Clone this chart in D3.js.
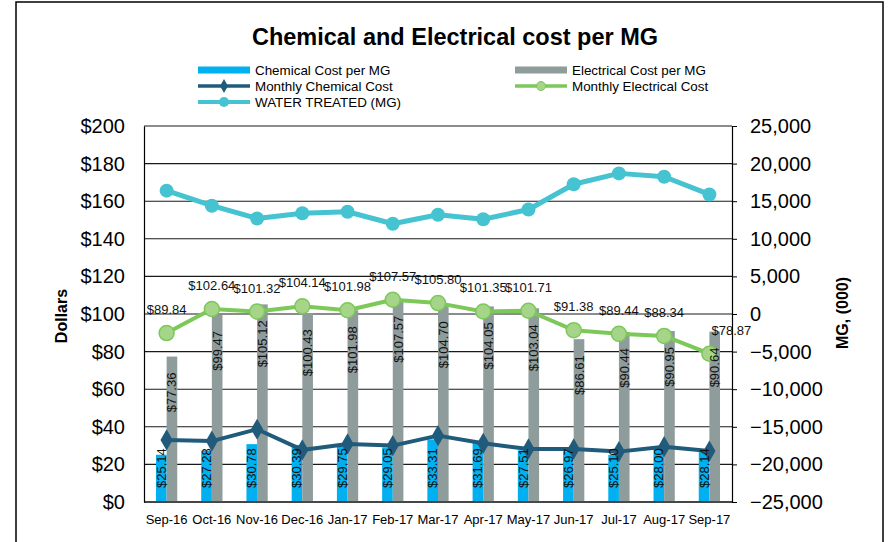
<!DOCTYPE html>
<html>
<head>
<meta charset="utf-8">
<script src="https://cdn.jsdelivr.net/npm/d3@7"></script>
<style>
  body { margin: 0; background: #fff; }
  svg { display: block; font-family: Arial, "Liberation Sans", sans-serif; }
</style>
</head>
<body>
<div id="chart"></div>
<script>
const months = ["Sep-16","Oct-16","Nov-16","Dec-16","Jan-17","Feb-17","Mar-17","Apr-17","May-17","Jun-17","Jul-17","Aug-17","Sep-17"];
const chemPerMG = [25.14,27.28,30.78,30.39,29.75,29.05,33.31,31.69,27.51,26.97,25.10,28.00,28.14];
const elecPerMG = [77.36,99.47,105.12,100.43,101.98,107.57,104.70,104.05,103.04,86.61,90.44,90.95,90.64];
const monthlyChem = [33.0,32.4,38.7,27.7,30.9,30.0,35.3,31.2,28.2,28.2,26.8,29.4,27.1];
const monthlyElec = [89.84,102.64,101.32,104.14,101.98,107.57,105.80,101.35,101.71,91.38,89.44,88.34,78.87];
const waterTreated = [16400,14400,12700,13400,13600,12000,13200,12600,13900,17250,18700,18250,15900];
const leftTicks = [0,20,40,60,80,100,120,140,160,180,200];
const rightTicks = [-25000,-20000,-15000,-10000,-5000,0,5000,10000,15000,20000,25000];

const W = 889, H = 542;
const C = {chem:"#00b0f0", elec:"#8f9c9c", chemLine:"#215b7c", elecLine:"#7cc859", elecMarker:"#a6d58a", water:"#45c3d0"};
const svg = d3.select("#chart").append("svg").attr("width", W).attr("height", H);

// frame
svg.append("rect").attr("x",16).attr("y",2).attr("width",867).attr("height",H+10)
  .attr("fill","none").attr("stroke","#000").attr("stroke-width",1.5);

const plot = {l:144, r:732, t:126, b:502};
const x = d3.scaleBand().domain(months).range([plot.l, plot.r]).paddingInner(0).paddingOuter(0);
const yL = d3.scaleLinear().domain([0,200]).range([plot.b, plot.t]);
const yR = d3.scaleLinear().domain([-25000,25000]).range([plot.b, plot.t]);
const cx = m => x(m) + x.bandwidth()/2;
const bw = x.bandwidth()*0.235;

// title
svg.append("text").attr("x",455).attr("y",45).attr("text-anchor","middle")
  .attr("font-size","23.5px").attr("font-weight","bold").attr("fill","#000")
  .text("Chemical and Electrical cost per MG");

// gridlines
svg.append("g").selectAll("line").data(leftTicks).join("line")
  .attr("x1",plot.l).attr("x2",plot.r).attr("y1",d=>yL(d)).attr("y2",d=>yL(d))
  .attr("stroke","#1a1a1a").attr("stroke-width",1.1);

// left axis
const gL = svg.append("g").attr("transform",`translate(${plot.l},0)`)
  .call(d3.axisLeft(yL).tickValues(leftTicks).tickSize(0).tickPadding(19).tickFormat(d=>"$"+d));
gL.select(".domain").attr("stroke","#000").attr("stroke-width",1.2);
gL.selectAll("text").attr("font-size","20px").attr("fill","#000").attr("font-family","Arial, 'Liberation Sans', sans-serif");

// right axis
const gR = svg.append("g").attr("transform",`translate(${plot.r},0)`)
  .call(d3.axisRight(yR).tickValues(rightTicks).tickSize(5).tickPadding(13).tickFormat(d3.format(",")));
gR.select(".domain").attr("stroke","#000").attr("stroke-width",1.2);
gR.selectAll("line").attr("stroke","#000");
gR.selectAll("text").attr("font-size","20px").attr("fill","#000").attr("font-family","Arial, 'Liberation Sans', sans-serif");

// x axis labels
svg.append("g").selectAll("text").data(months).join("text")
  .attr("x",d=>cx(d)).attr("y",524).attr("text-anchor","middle")
  .attr("font-size","13px").attr("fill","#000").text(d=>d);

// axis titles
svg.append("text").attr("transform","translate(67,316) rotate(-90)").attr("text-anchor","middle")
  .attr("font-size","16px").attr("font-weight","bold").text("Dollars");
svg.append("text").attr("transform","translate(848,313) rotate(-90)").attr("text-anchor","middle")
  .attr("font-size","16px").attr("font-weight","bold").text("MG, (000)");

// bars
svg.append("g").selectAll("rect").data(months).join("rect")
  .attr("x",d=>cx(d)-bw).attr("width",bw)
  .attr("y",(d,i)=>yL(chemPerMG[i])).attr("height",(d,i)=>yL(0)-yL(chemPerMG[i]))
  .attr("fill",C.chem);
svg.append("g").selectAll("rect").data(months).join("rect")
  .attr("x",d=>cx(d)).attr("width",bw)
  .attr("y",(d,i)=>yL(elecPerMG[i])).attr("height",(d,i)=>yL(0)-yL(elecPerMG[i]))
  .attr("fill",C.elec);
// bottom axis line
svg.append("line").attr("x1",plot.l).attr("x2",plot.r).attr("y1",plot.b).attr("y2",plot.b)
  .attr("stroke","#000").attr("stroke-width",1.2);

// water treated line (right axis)
const lineW = d3.line().x((d,i)=>cx(months[i])).y(d=>yR(d));
svg.append("path").datum(waterTreated).attr("d",lineW).attr("fill","none")
  .attr("stroke",C.water).attr("stroke-width",5).attr("stroke-linejoin","round");
svg.append("g").selectAll("circle").data(waterTreated).join("circle")
  .attr("cx",(d,i)=>cx(months[i])).attr("cy",d=>yR(d)).attr("r",7).attr("fill",C.water);

// monthly chemical (dark blue, diamonds)
const lineL = d3.line().x((d,i)=>cx(months[i])).y(d=>yL(d));
svg.append("path").datum(monthlyChem).attr("d",lineL).attr("fill","none")
  .attr("stroke",C.chemLine).attr("stroke-width",4).attr("stroke-linejoin","round");
svg.append("g").selectAll("path").data(monthlyChem).join("path")
  .attr("d",d3.symbol().type(d3.symbolDiamond).size(130))
  .attr("transform",(d,i)=>`translate(${cx(months[i])},${yL(d)})`).attr("fill",C.chemLine);

// monthly electrical (green, circles)
svg.append("path").datum(monthlyElec).attr("d",lineL).attr("fill","none")
  .attr("stroke",C.elecLine).attr("stroke-width",4).attr("stroke-linejoin","round");
svg.append("g").selectAll("circle").data(monthlyElec).join("circle")
  .attr("cx",(d,i)=>cx(months[i])).attr("cy",d=>yL(d)).attr("r",7.5)
  .attr("fill",C.elecMarker).attr("stroke",C.elecLine).attr("stroke-width",1.5);

// bar labels
svg.append("g").selectAll("text").data(chemPerMG).join("text")
  .attr("transform",(d,i)=>`translate(${cx(months[i])-bw/2},488) rotate(-90)`)
  .attr("dominant-baseline","central").attr("font-size","13px").attr("fill","#111")
  .text(d=>"$"+d.toFixed(2));
svg.append("g").selectAll("text").data(elecPerMG).join("text")
  .attr("transform",(d,i)=>`translate(${cx(months[i])+bw/2},${yL(d)+16}) rotate(-90)`)
  .attr("text-anchor","end").attr("dominant-baseline","central").attr("font-size","13px").attr("fill","#111")
  .text(d=>"$"+d.toFixed(2));
// line labels
svg.append("g").selectAll("text").data(monthlyElec).join("text")
  .attr("x",(d,i)=>cx(months[i]) + (i===monthlyElec.length-1 ? 22 : 0))
  .attr("y",d=>yL(d)-19).attr("text-anchor","middle").attr("font-size","13px").attr("fill","#111")
  .text(d=>"$"+d.toFixed(2));

// legend
const legend = [
  {label:"Chemical Cost per MG", type:"bar", color:C.chem, x:198, y:70},
  {label:"Electrical Cost per MG", type:"bar", color:C.elec, x:515, y:70},
  {label:"Monthly Chemical Cost", type:"diamond", color:C.chemLine, x:198, y:86},
  {label:"Monthly Electrical Cost", type:"circleE", color:C.elecLine, x:515, y:86},
  {label:"WATER TREATED (MG)", type:"circleW", color:C.water, x:198, y:102}
];
const lg = svg.append("g").selectAll("g").data(legend).join("g")
  .attr("transform",d=>`translate(${d.x},${d.y})`);
lg.each(function(d){
  const g = d3.select(this);
  if (d.type==="bar") {
    g.append("rect").attr("x",0).attr("y",-3.5).attr("width",52).attr("height",7).attr("fill",d.color);
  } else {
    g.append("line").attr("x1",0).attr("x2",52).attr("y1",0).attr("y2",0)
      .attr("stroke",d.color).attr("stroke-width",d.type==="circleW"?4:3.5);
    if (d.type==="diamond") g.append("path").attr("d",d3.symbol().type(d3.symbolDiamond).size(55)())
      .attr("transform","translate(26,0)").attr("fill",d.color);
    if (d.type==="circleE") g.append("circle").attr("cx",26).attr("r",4.5).attr("fill",C.elecMarker).attr("stroke",d.color).attr("stroke-width",1);
    if (d.type==="circleW") g.append("circle").attr("cx",26).attr("r",5).attr("fill",d.color);
  }
  g.append("text").attr("x",57).attr("y",0).attr("dominant-baseline","central")
    .attr("font-size","13.4px").attr("fill","#000").text(d.label);
});
</script>
</body>
</html>
